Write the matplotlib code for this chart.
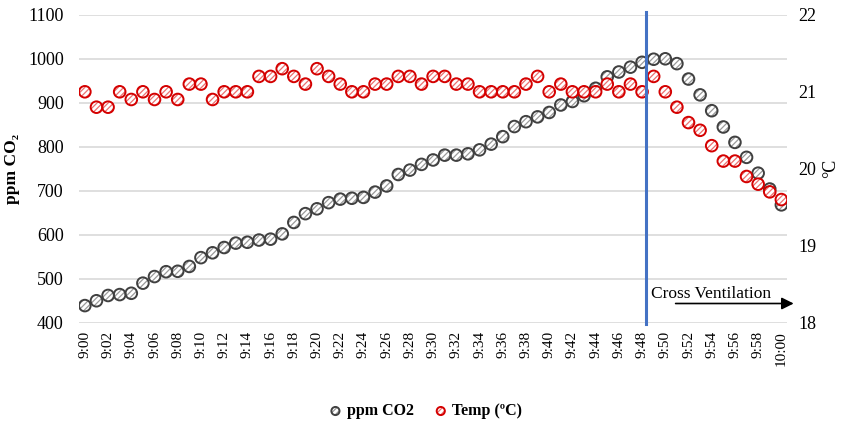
import matplotlib
matplotlib.use('Agg')
import matplotlib.pyplot as plt
import numpy as np

font = {'family': 'Liberation Serif', 'size': 12}
matplotlib.rc("font", **font)
plt.rcParams['hatch.linewidth'] = 0.9

times = ['9:%02d' % m for m in range(60)] + ['10:00']
co2 = [439, 450, 462, 464, 467, 490, 505, 516, 517, 528,
       548, 559, 571, 581, 583, 588, 590, 602, 628, 648,
       659, 673, 681, 683, 685, 697, 711, 737, 747, 760,
       770, 781, 781, 784, 793, 806, 823, 846, 857, 868,
       878, 895, 903, 916, 933, 959, 970, 981, 992, 999,
       1000, 989, 954, 918, 882, 845, 810, 776, 740, 704,
       668]
temp = [21.0, 20.8, 20.8, 21.0, 20.9, 21.0, 20.9, 21.0, 20.9, 21.1,
        21.1, 20.9, 21.0, 21.0, 21.0, 21.2, 21.2, 21.3, 21.2, 21.1,
        21.3, 21.2, 21.1, 21.0, 21.0, 21.1, 21.1, 21.2, 21.2, 21.1,
        21.2, 21.2, 21.1, 21.1, 21.0, 21.0, 21.0, 21.0, 21.1, 21.2,
        21.0, 21.1, 21.0, 21.0, 21.0, 21.1, 21.0, 21.1, 21.0, 21.2,
        21.0, 20.8, 20.6, 20.5, 20.3, 20.1, 20.1, 19.9, 19.8, 19.7,
        19.6]
vent_label = '9:48'

x = np.arange(len(times))

fig = plt.figure(figsize=(8.41, 4.23), dpi=100)
ax = fig.add_axes([0.094, 0.237, 0.842, 0.728])
ax2 = ax.twinx()

grid_c = '#d9d9d9'
ax.set_ylim(400, 1100)
ax.set_yticks(np.arange(400, 1101, 100))
ax.grid(axis='y', color=grid_c, linewidth=1.2)
ax.set_axisbelow(True)
ax.set_xlim(-0.5, len(times) - 0.5)
ax.set_xticks(x[::2])
ax.set_xticklabels(times[::2], rotation=90, fontsize=11)
ax.tick_params(axis='y', length=0, pad=11, labelsize=13)
ax.tick_params(axis='x', length=0, pad=6)
for sp in ax.spines.values():
    sp.set_visible(False)
for sp in ax2.spines.values():
    sp.set_visible(False)

# hatch in a lighter colour, outline on top
h1 = ax.scatter(x, co2, s=70, facecolor='white', edgecolor='#9a9a9a',
                linewidth=0, hatch='//////', zorder=3)
o1 = ax.scatter(x, co2, s=70, facecolor='none', edgecolor='#404040',
                linewidth=1.4, zorder=3)
ax.set_ylabel('ppm CO₂', fontweight='bold', fontsize=12.5)
ax.yaxis.set_label_coords(-0.083, 0.5)

ax2.set_ylim(18, 22)
ax2.set_yticks(np.arange(18, 23, 1))
ax2.tick_params(length=0, pad=8, labelsize=13)
h2 = ax2.scatter(x, temp, s=70, facecolor='white', edgecolor='#ec7070',
                 linewidth=0, hatch='//////', zorder=3)
o2 = ax2.scatter(x, temp, s=70, facecolor='none', edgecolor='#d40000',
                 linewidth=1.4, zorder=3)
ax2.set_ylabel('°C', fontsize=13, labelpad=4)

# start of cross ventilation
xv = times.index(vent_label) + 0.35
ax2.plot([xv, xv], [17.98, 22.03], color='#4472c4', linewidth=2.2,
         zorder=4, clip_on=False)
ax2.text(xv + 0.45, 18.27, 'Cross Ventilation', fontsize=12.5, ha='left',
         va='bottom')
ax2.annotate('', xy=(len(times) + 0.3, 18.25), xytext=(xv + 2.3, 18.25),
             arrowprops=dict(arrowstyle='-|>', color='black', lw=1.2,
                             mutation_scale=18), annotation_clip=False)

fig.legend([(h1, o1), (h2, o2)], ['ppm CO2', 'Temp (ºC)'], loc='lower center',
           bbox_to_anchor=(0.505, -0.025), ncol=2, frameon=False,
           prop={'family': 'Liberation Serif', 'weight': 'bold', 'size': 11.5},
           markerscale=0.7, handlelength=1.0, handletextpad=0.2,
           columnspacing=1.2)

plt.savefig('out.png', dpi=100)
